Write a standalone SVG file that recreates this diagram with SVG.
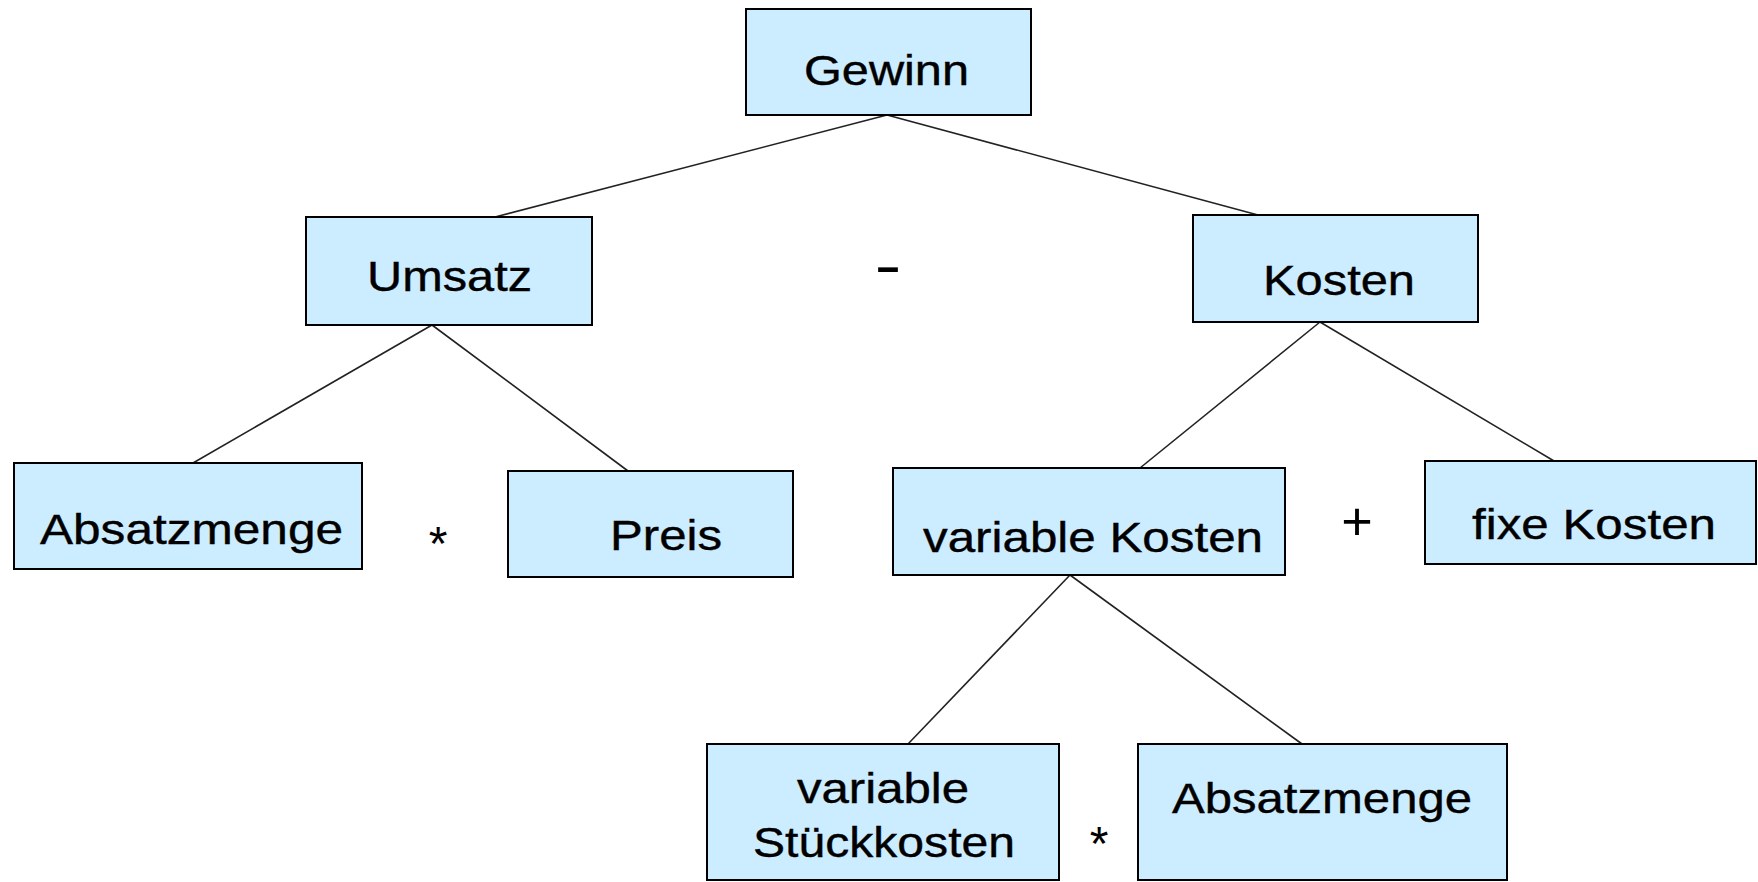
<svg xmlns="http://www.w3.org/2000/svg" width="1758" height="882" viewBox="0 0 1758 882">
<style>
.box{fill:#CCECFF;stroke:#000;stroke-width:2}
.t{font-family:"Liberation Sans",Arial,sans-serif;font-size:43px;fill:#000;stroke:#000;stroke-width:0.4}
.op{font-family:"Liberation Sans",Arial,sans-serif;fill:#000;text-anchor:middle}
.c{stroke:#222;stroke-width:1.6;fill:none}
</style>
<rect width="1758" height="882" fill="#fff"/>
<g id="connectors">
<line class="c" x1="887" y1="115" x2="495" y2="217"/>
<line class="c" x1="887" y1="115" x2="1258" y2="215"/>
<line class="c" x1="432" y1="325" x2="193" y2="463"/>
<line class="c" x1="432" y1="325" x2="628" y2="471"/>
<line class="c" x1="1320" y1="322" x2="1140" y2="468"/>
<line class="c" x1="1320" y1="322" x2="1554" y2="461"/>
<line class="c" x1="1070" y1="575" x2="908" y2="744"/>
<line class="c" x1="1070" y1="575" x2="1302" y2="744"/>
</g>
<g id="gewinn"><rect class="box" x="746" y="9" width="285" height="106"/><text class="t" x="804" y="85" textLength="165" lengthAdjust="spacingAndGlyphs">Gewinn</text></g>
<g id="umsatz"><rect class="box" x="306" y="217" width="286" height="108"/><text class="t" x="367" y="291" textLength="165" lengthAdjust="spacingAndGlyphs">Umsatz</text></g>
<g id="kosten"><rect class="box" x="1193" y="215" width="285" height="107"/><text class="t" x="1263" y="295" textLength="152" lengthAdjust="spacingAndGlyphs">Kosten</text></g>
<g id="absatzmenge1"><rect class="box" x="14" y="463" width="348" height="106"/><text class="t" x="40" y="544" textLength="303" lengthAdjust="spacingAndGlyphs">Absatzmenge</text></g>
<g id="preis"><rect class="box" x="508" y="471" width="285" height="106"/><text class="t" x="610" y="550" textLength="112" lengthAdjust="spacingAndGlyphs">Preis</text></g>
<g id="variable-kosten"><rect class="box" x="893" y="468" width="392" height="107"/><text class="t" x="923" y="552" textLength="340" lengthAdjust="spacingAndGlyphs">variable Kosten</text></g>
<g id="fixe-kosten"><rect class="box" x="1425" y="461" width="331" height="103"/><text class="t" x="1472" y="539" textLength="244" lengthAdjust="spacingAndGlyphs">fixe Kosten</text></g>
<g id="variable-stueckkosten"><rect class="box" x="707" y="744" width="352" height="136"/><text class="t" x="797" y="803" textLength="172" lengthAdjust="spacingAndGlyphs">variable</text><text class="t" x="753" y="857" textLength="262" lengthAdjust="spacingAndGlyphs">Stückkosten</text></g>
<g id="absatzmenge2"><rect class="box" x="1138" y="744" width="369" height="136"/><text class="t" x="1172" y="813" textLength="300" lengthAdjust="spacingAndGlyphs">Absatzmenge</text></g>
<g id="operators">
<text class="op" x="888" y="285" font-size="60" textLength="27" lengthAdjust="spacingAndGlyphs">-</text>
<text class="op" x="438" y="560" font-size="48">*</text>
<text class="op" x="1357" y="540" font-size="54">+</text>
<text class="op" x="1099" y="860" font-size="48">*</text>
</g>
</svg>
